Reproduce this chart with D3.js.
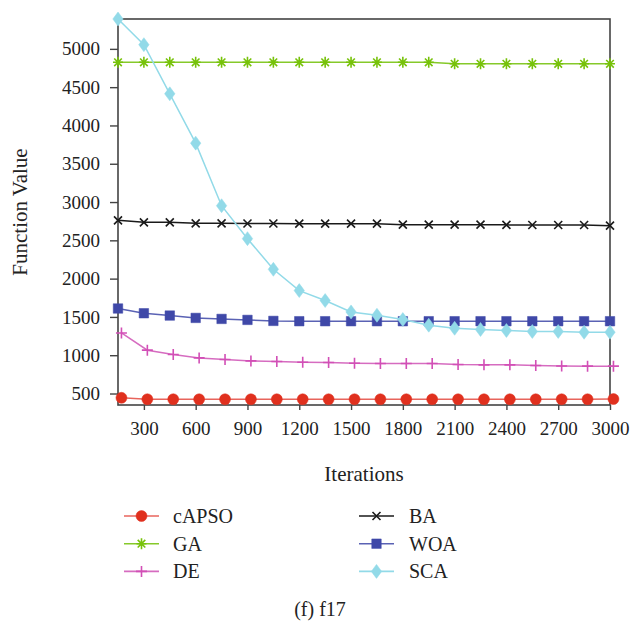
<!DOCTYPE html>
<html>
<head>
<meta charset="utf-8">
<script src="https://cdn.jsdelivr.net/npm/d3@7"></script>
<style>
  body { margin: 0; background: #fff; }
  text { font-family: "Liberation Serif", "DejaVu Serif", serif; fill: #222; }
</style>
</head>
<body>
<div id="chart"></div>
<script>
// iterations where markers sit
const iters = [150, 300, 450, 600, 750, 900, 1050, 1200, 1350, 1500,
               1650, 1800, 1950, 2100, 2250, 2400, 2550, 2700, 2850, 3000];
// cAPSO and DE markers sit a touch to the right in the source figure
const itersShifted = [170, 320, 470, 620, 770, 920, 1070, 1220, 1370, 1520,
                      1670, 1820, 1970, 2120, 2270, 2420, 2570, 2720, 2870, 3020];

const capso = [444, 425, 425, 425, 425, 425, 425, 425, 425, 425,
               425, 425, 425, 425, 425, 425, 425, 425, 425, 428];
const ga = [4825, 4825, 4825, 4825, 4825, 4825, 4825, 4825, 4825, 4825,
            4825, 4825, 4825, 4805, 4805, 4805, 4805, 4805, 4805, 4805];
const de = [1291, 1066, 1010, 965, 944, 926, 918, 908, 905, 896,
            892, 892, 892, 879, 874, 874, 866, 860, 857, 857];
const ba = [2761, 2735, 2735, 2722, 2722, 2720, 2720, 2718, 2718, 2718,
            2718, 2705, 2705, 2705, 2705, 2702, 2700, 2700, 2700, 2692];
const woa = [1610, 1548, 1518, 1487, 1474, 1461, 1448, 1444, 1444, 1444,
             1444, 1444, 1444, 1444, 1444, 1444, 1444, 1444, 1444, 1444];
const sca = [5390, 5055, 4413, 3769, 2952, 2522, 2122, 1844, 1714, 1565,
             1522, 1466, 1392, 1352, 1336, 1323, 1310, 1310, 1300, 1300];

const xTicks = [300, 600, 900, 1200, 1500, 1800, 2100, 2400, 2700, 3000];
const yTicks = [500, 1000, 1500, 2000, 2500, 3000, 3500, 4000, 4500, 5000];

const series = [
  { name: "cAPSO", x: itersShifted, y: capso, color: "#e0301e", line: "#e8645c", marker: "circle" },
  { name: "GA", x: iters, y: ga, color: "#77c20a", line: "#86c92a", marker: "star" },
  { name: "DE", x: itersShifted, y: de, color: "#d24fb6", line: "#d66cc0", marker: "plus" },
  { name: "BA", x: iters, y: ba, color: "#1a1a1a", line: "#1a1a1a", marker: "cross" },
  { name: "WOA", x: iters, y: woa, color: "#3f48a8", line: "#5a62b4", marker: "square" },
  { name: "SCA", x: iters, y: sca, color: "#92dae8", line: "#92dae8", marker: "diamond" }
];
const legendLeft = ["cAPSO", "GA", "DE"];
const legendRight = ["BA", "WOA", "SCA"];

const width = 639, height = 625;
const margin = { left: 118, right: 29, top: 19, bottom: 220 };

const svg = d3.select("#chart").append("svg")
  .attr("width", width)
  .attr("height", height);

const x = d3.scaleLinear().domain([150, 3000]).range([margin.left, width - margin.right]);
const y = d3.scaleLinear().domain([350, 5390]).range([height - margin.bottom, margin.top]);

// marker shapes as stroke/fill paths
function markerPath(type) {
  if (type === "circle") return d3.symbol(d3.symbolCircle, 95)();
  if (type === "square") return d3.symbol(d3.symbolSquare, 90)();
  if (type === "diamond") return "M0,-7L5.2,0L0,7L-5.2,0Z";
  if (type === "plus") return "M-5.5,0L5.5,0M0,-5.5L0,5.5";
  if (type === "cross") return "M-4,-4L4,4M-4,4L4,-4";
  if (type === "star") return "M-5,0L5,0M0,-5.5L0,5.5M-3.8,-3.8L3.8,3.8M-3.8,3.8L3.8,-3.8";
}
function isStroked(type) {
  return type === "plus" || type === "cross" || type === "star";
}

// frame
svg.append("rect")
  .attr("x", x(150))
  .attr("y", y(5390))
  .attr("width", x(3000) - x(150))
  .attr("height", y(350) - y(5390))
  .attr("fill", "none")
  .attr("stroke", "#444")
  .attr("stroke-width", 1.6);

const xAxis = svg.append("g")
  .attr("transform", `translate(0,${y(350)})`)
  .call(d3.axisBottom(x).tickValues(xTicks).tickSize(5).tickPadding(12).tickFormat(d3.format("d")));
xAxis.select(".domain").remove();
xAxis.selectAll("line").attr("stroke", "#444").attr("stroke-width", 1.4);
xAxis.selectAll("text").style("font-size", "19px").attr("fill", "#222");

const yAxis = svg.append("g")
  .attr("transform", `translate(${x(150)},0)`)
  .call(d3.axisLeft(y).tickValues(yTicks).tickSize(8).tickPadding(10).tickFormat(d3.format("d")));
yAxis.select(".domain").remove();
yAxis.selectAll("line").attr("stroke", "#444").attr("stroke-width", 1.4);
yAxis.selectAll("text").style("font-size", "19px").attr("fill", "#222");

// axis titles
svg.append("text")
  .attr("x", (x(150) + x(3000)) / 2)
  .attr("y", 481)
  .attr("text-anchor", "middle")
  .style("font-size", "21px")
  .text("Iterations");

svg.append("text")
  .attr("transform", `translate(27,${(y(350) + y(5390)) / 2}) rotate(-90)`)
  .attr("text-anchor", "middle")
  .style("font-size", "21px")
  .text("Function Value");

// series
const line = d3.line();
series.forEach(s => {
  const pts = s.x.map((v, i) => [x(v), y(s.y[i])]);
  const g = svg.append("g");
  g.append("path")
    .attr("d", line(pts))
    .attr("fill", "none")
    .attr("stroke", s.line)
    .attr("stroke-width", 1.5);
  g.selectAll("path.m")
    .data(pts)
    .join("path")
    .attr("class", "m")
    .attr("transform", d => `translate(${d[0]},${d[1]})`)
    .attr("d", markerPath(s.marker))
    .attr("fill", isStroked(s.marker) ? "none" : s.color)
    .attr("stroke", s.color)
    .attr("stroke-width", isStroked(s.marker) ? 1.6 : 0.5);
});

// legend
function drawLegend(names, x0, textX) {
  names.forEach((name, i) => {
    const s = series.find(d => d.name === name);
    const yy = 516 + i * 27.7;
    svg.append("line")
      .attr("x1", x0).attr("x2", x0 + 35)
      .attr("y1", yy).attr("y2", yy)
      .attr("stroke", s.line)
      .attr("stroke-width", 1.6);
    svg.append("path")
      .attr("transform", `translate(${x0 + 17.5},${yy})`)
      .attr("d", markerPath(s.marker))
      .attr("fill", isStroked(s.marker) ? "none" : s.color)
      .attr("stroke", s.color)
      .attr("stroke-width", isStroked(s.marker) ? 1.6 : 0.5);
    svg.append("text")
      .attr("x", textX)
      .attr("y", yy + 7)
      .style("font-size", "20px")
      .text(name);
  });
}
drawLegend(legendLeft, 124, 173);
drawLegend(legendRight, 359, 409);

svg.append("text")
  .attr("x", 320)
  .attr("y", 616)
  .attr("text-anchor", "middle")
  .style("font-size", "20px")
  .text("(f) f17");
</script>
</body>
</html>
